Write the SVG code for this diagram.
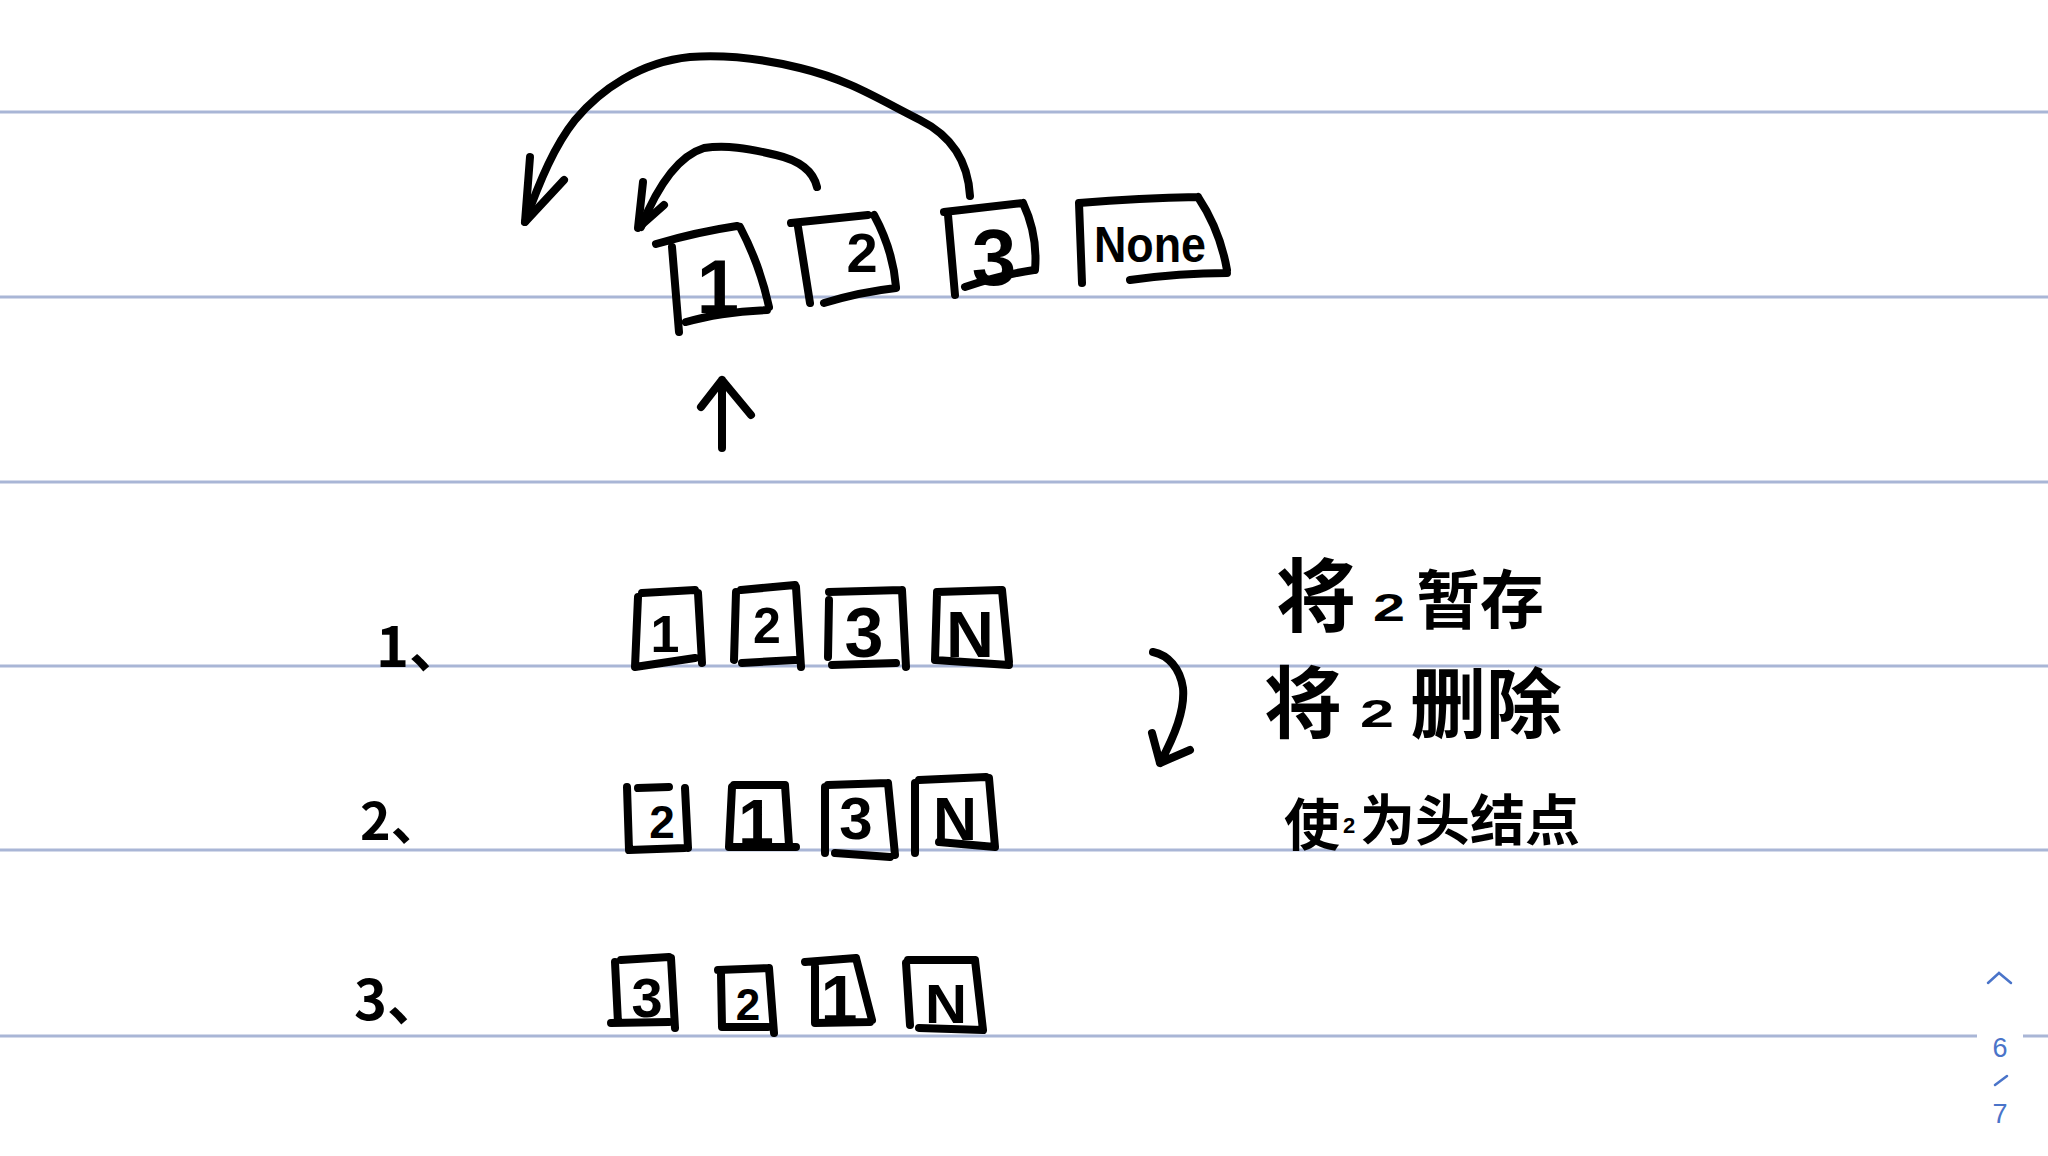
<svg xmlns="http://www.w3.org/2000/svg" width="2048" height="1156" viewBox="0 0 2048 1156">
<style>
.rule{stroke:#a9b6d6;stroke-width:3}
.ink{fill:none;stroke:#000;stroke-width:8;stroke-linecap:round;stroke-linejoin:round}
.dg{font-family:"Liberation Sans",Arial,sans-serif;font-weight:700;fill:#000;text-anchor:middle}
.cn{font-family:"Noto Sans CJK SC","Noto Sans",sans-serif;font-weight:700;fill:#000}
.pg{font-family:"Liberation Sans",Arial,sans-serif;fill:#4a74c9;text-anchor:middle;font-size:27px}
</style>
<rect width="2048" height="1156" fill="#fff"/>
<g id="rules">
<line class="rule" x1="0" y1="112" x2="2048" y2="112"/>
<line class="rule" x1="0" y1="297" x2="2048" y2="297"/>
<line class="rule" x1="0" y1="482" x2="2048" y2="482"/>
<line class="rule" x1="0" y1="666" x2="2048" y2="666"/>
<line class="rule" x1="0" y1="850" x2="2048" y2="850"/>
<line class="rule" x1="0" y1="1036" x2="2048" y2="1036"/>
<rect x="1977" y="1030" width="46" height="12" fill="#fff"/>
</g>
<g id="connectors">
<path class="ink" d="M970,196 C968,160 950,135 920,120 C880,100 850,80 800,68 C760,58 720,55 690,57 C640,62 600,90 575,120 C555,145 540,180 525,222"/>
<path class="ink" d="M530,157 L525,222 L564,180"/>
<path class="ink" d="M817,187 C813,170 798,160 776,155 C747,148 726,145 704,148 C681,155 660,180 641,227"/>
<path class="ink" d="M643,182 L638,228 L664,205"/>
<path class="ink" d="M722,380 L722,448 M701,407 L722,380 L751,415"/>
<path class="ink" d="M1153,652 C1168,655 1180,668 1183,688 C1185,710 1175,735 1160,763 M1152,733 L1160,763 L1190,750"/>
</g>
<g id="top-1">
<path class="ink" d="M656,244 Q697,232 737,226 M672,247 L679,332 M740,227 Q760,265 769,307 M686,322 Q720,312 767,310"/>
<text class="dg" x="718" y="313" font-size="76">1</text>
</g>
<g id="top-2">
<path class="ink" d="M791,223 L868,215 M798,227 L810,303 M874,215 Q893,250 896,287 M824,303 Q860,292 896,288"/>
<text class="dg" x="862" y="272" font-size="56">2</text>
</g>
<g id="top-3">
<path class="ink" d="M944,212 L1023,203 M948,215 L955,295 M1023,203 Q1038,235 1035,270 M965,287 Q1000,275 1034,270"/>
<text class="dg" x="994" y="285" font-size="80">3</text>
</g>
<g id="top-none">
<path class="ink" d="M1079,203 Q1140,198 1198,197 M1079,203 L1082,283 M1198,197 Q1220,230 1227,270 M1130,280 Q1180,273 1227,273"/>
<text class="dg" x="1150" y="262" font-size="50" textLength="112" lengthAdjust="spacingAndGlyphs">None</text>
</g>
<g id="label-1"><text class="cn" x="376" y="667" font-size="56" font-weight="400">1、</text></g>
<g id="label-2"><text class="cn" x="360" y="840" font-size="52" font-weight="400">2、</text></g>
<g id="label-3"><text class="cn" x="354" y="1020" font-size="56" font-weight="400">3、</text></g>
<g id="row1">
<g id="r1-1"><path class="ink" d="M642,593 L695,590 M638,597 L635,667 M698,593 L702,663 M635,667 L695,658"/><text class="dg" x="665" y="652" font-size="52">1</text></g>
<g id="r1-2"><path class="ink" d="M741,590 L795,585 M736,592 L734,660 M796,587 L801,667 M742,663 L795,660"/><text class="dg" x="767" y="643" font-size="50">2</text></g>
<g id="r1-3"><path class="ink" d="M829,592 L902,590 M829,600 L828,657 M902,590 L906,667 M832,665 L896,663"/><text class="dg" x="864" y="657" font-size="70">3</text></g>
<g id="r1-n"><path class="ink" d="M937,592 L1000,590 M937,593 L935,660 M1002,590 L1009,662 M935,660 L1009,665"/><text class="dg" x="970" y="657" font-size="64" textLength="48" lengthAdjust="spacingAndGlyphs">N</text></g>
</g>
<g id="row2">
<g id="r2-2"><path class="ink" d="M638,788 L669,787 M627,787 L629,850 M685,788 L688,848 M629,850 L685,848"/><text class="dg" x="662" y="838" font-size="46">2</text></g>
<g id="r2-1"><path class="ink" d="M734,785 L783,785 M732,787 L729,847 M785,785 L789,845 M729,847 L796,847"/><text class="dg" x="756" y="845" font-size="64">1</text></g>
<g id="r2-3"><path class="ink" d="M828,785 L888,783 M825,787 L825,853 M888,783 L895,855 M835,853 L890,857"/><text class="dg" x="856" y="839" font-size="60">3</text></g>
<g id="r2-n"><path class="ink" d="M919,780 L986,777 M915,783 L915,853 M989,778 L995,847 M939,842 L995,847"/><text class="dg" x="955" y="840" font-size="62" textLength="44" lengthAdjust="spacingAndGlyphs">N</text></g>
</g>
<g id="row3">
<g id="r3-3"><path class="ink" d="M621,960 L669,957 M615,962 L618,1023 M671,958 L675,1028 M611,1023 L669,1022"/><text class="dg" x="647" y="1017" font-size="56">3</text></g>
<g id="r3-2"><path class="ink" d="M718,970 L769,968 M721,973 L722,1027 M769,968 L774,1033 M722,1027 L768,1027"/><text class="dg" x="748" y="1020" font-size="44">2</text></g>
<g id="r3-1"><path class="ink" d="M805,962 L856,958 M815,967 L815,1023 M856,958 L872,1020 M815,1023 L870,1022"/><text class="dg" x="839" y="1022" font-size="66">1</text></g>
<g id="r3-n"><path class="ink" d="M908,960 L975,960 M906,963 L910,1025 M975,960 L983,1030 M919,1028 L983,1030"/><text class="dg" x="946" y="1023" font-size="56" textLength="42" lengthAdjust="spacingAndGlyphs">N</text></g>
</g>
<g id="note">
<text class="cn"><tspan x="1276" y="625" font-size="80">将</tspan><tspan x="1373" y="621" font-size="38" font-family="Liberation Sans,sans-serif" textLength="32" lengthAdjust="spacingAndGlyphs">2</tspan><tspan x="1416" y="623" font-size="64">暂存</tspan></text>
<text class="cn"><tspan x="1264" y="732" font-size="78">将</tspan><tspan x="1360" y="727" font-size="38" font-family="Liberation Sans,sans-serif" textLength="34" lengthAdjust="spacingAndGlyphs">2</tspan><tspan x="1410" y="732" font-size="76">删除</tspan></text>
<text class="cn"><tspan x="1284" y="845" font-size="56">使</tspan><tspan x="1343" y="833" font-size="22" font-family="Liberation Sans,sans-serif">2</tspan><tspan x="1360" y="840" font-size="55">为头结点</tspan></text>
</g>
<g id="pager">
<path d="M1988,983 L1999,973 L2011,983" fill="none" stroke="#4a74c9" stroke-width="2.5" stroke-linecap="round"/>
<text class="pg" x="2000" y="1057">6</text>
<path d="M1995,1085 L2007,1076" stroke="#4a74c9" stroke-width="2.5" stroke-linecap="round"/>
<text class="pg" x="2000" y="1123">7</text>
</g>
</svg>
